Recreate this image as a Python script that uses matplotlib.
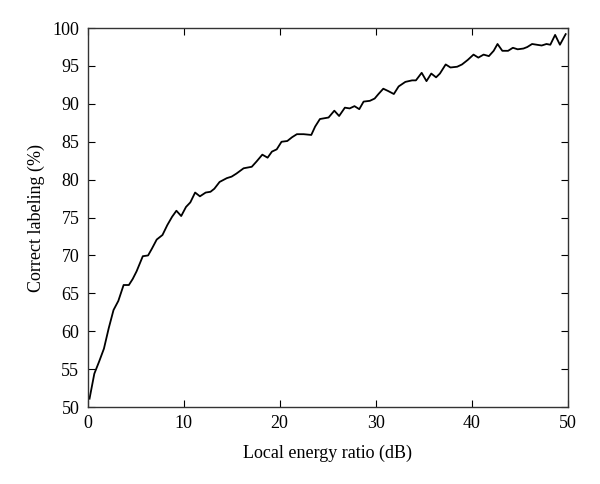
import matplotlib
matplotlib.use('Agg')
import matplotlib.pyplot as plt

# values
ratio_db = [0.2, 0.7, 1.2, 1.7, 2.2, 2.7, 3.2, 3.75, 4.3, 4.7, 5.1, 5.75, 6.3, 6.7, 7.2, 7.8,
            8.3, 8.8, 9.25, 9.75, 10.25, 10.7, 11.2, 11.7, 12.3, 12.8, 13.2, 13.75, 14.5,
            15.0, 15.5, 16.25, 17.1, 17.6, 18.2, 18.75, 19.2, 19.7, 20.2, 20.8, 21.3, 21.8,
            22.5, 23.3, 23.7, 24.2, 25.1, 25.7, 26.2, 26.8, 27.3, 27.8, 28.3, 28.75, 29.4,
            29.9, 30.3, 30.8, 31.3, 31.9, 32.4, 33.1, 33.8, 34.2, 34.8, 35.3, 35.8, 36.3,
            36.7, 37.3, 37.8, 38.5, 39.0, 39.6, 40.2, 40.7, 41.25, 41.8, 42.3, 42.7, 43.2,
            43.8, 44.3, 44.8, 45.4, 45.8, 46.3, 46.8, 47.3, 47.8, 48.2, 48.7, 49.2, 49.8]
correct = [51.1, 54.4, 56.0, 57.7, 60.4, 62.8, 64.0, 66.1, 66.1, 66.9, 67.9, 69.9, 70.0, 70.9,
           72.1, 72.7, 74.0, 75.1, 75.9, 75.2, 76.4, 77.0, 78.3, 77.8, 78.3, 78.4, 78.8,
           79.7, 80.2, 80.4, 80.8, 81.5, 81.7, 82.4, 83.3, 82.9, 83.7, 84.0, 85.0, 85.1,
           85.6, 86.0, 86.0, 85.9, 87.0, 88.0, 88.2, 89.1, 88.4, 89.5, 89.4, 89.7, 89.3,
           90.3, 90.4, 90.7, 91.3, 92.0, 91.7, 91.3, 92.3, 92.9, 93.1, 93.1, 94.1, 93.0,
           94.0, 93.5, 94.0, 95.2, 94.8, 94.9, 95.2, 95.8, 96.5, 96.1, 96.5, 96.3, 97.0,
           97.9, 97.0, 97.0, 97.4, 97.2, 97.3, 97.5, 97.9, 97.8, 97.7, 97.9, 97.8, 99.1,
           97.8, 99.2]

plt.rcParams['font.family'] = ['Liberation Serif', 'DejaVu Serif']

fig = plt.figure(figsize=(6, 4.84), dpi=100)
ax = fig.add_axes([0.146, 0.159, 0.8, 0.783])
ax.plot(ratio_db, correct, color='black', linewidth=1.3)

ax.set_xlim(0, 50)
ax.set_ylim(50, 100)
ax.set_xticks(range(0, 51, 10))
ax.set_yticks(range(50, 101, 5))
ax.tick_params(direction='in', top=True, right=True, labelsize=13, length=5, width=0.8)
ax.tick_params(axis='x', pad=6)
ax.tick_params(axis='y', pad=6)
for s in ax.spines.values():
    s.set_linewidth(1.0)
    s.set_color('#333333')

ax.set_xlabel('Local energy ratio (dB)', fontsize=13, labelpad=9)
ax.set_ylabel('Correct labeling (%)', fontsize=13, labelpad=5)

fig.savefig('out.png', dpi=100)
